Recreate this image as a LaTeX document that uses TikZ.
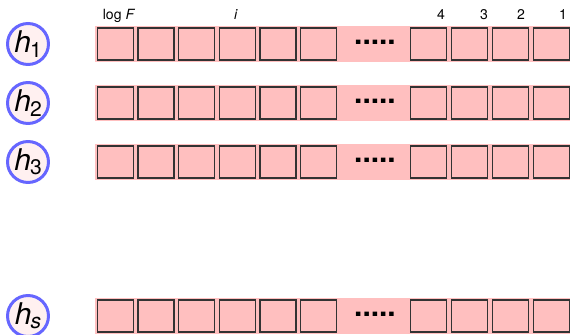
\documentclass[tikz,border=0pt]{standalone}
\usepackage{fontspec}
\setmainfont{TeX Gyre Heros}
\usepackage{tikz}
\usetikzlibrary{positioning}
\definecolor{cellpink}{HTML}{FFBFBF}
\definecolor{ringblue}{HTML}{6666FF}
\definecolor{ringfill}{HTML}{FFF0F0}
\definecolor{cellline}{HTML}{333333}
\newcommand{\hvar}[1]{{\fontsize{17}{17}\selectfont\itshape h}\kern-0.5pt\raisebox{-2.5pt}{\fontsize{12}{12}\selectfont #1}}

\begin{document}
\begin{tikzpicture}[x=0.02cm, y=-0.02cm, font=\fontsize{8}{9}\selectfont]
    \useasboundingbox (0,0) rectangle (570,334);
    \tikzset{
        strip/.style={fill=cellpink, inner sep=0, minimum width=9.5cm, minimum height=0.72cm},
        cell/.style={draw=cellline, line width=0.8pt, fill=cellpink, inner sep=0, minimum width=0.72cm, minimum height=0.64cm},
        ring/.style={circle, draw=ringblue, line width=1.7pt, fill=ringfill, inner sep=0, minimum size=0.82cm},
        dots/.style={font=\fontsize{17}{17}\selectfont\bfseries}
    }

    % one register per row
    \foreach \r/\y/\lab in {1/44/1, 2/103/2, 3/162/3, s/316/\textit{s}} {
        \node[ring] (h\r) at (28,\y) {\hvar{\lab}};
        \node[strip] (row\r) at (332.5,\y) {};
        \foreach \k/\x in {1/115.5, 2/156.1, 3/196.7, 4/237.3, 5/277.9, 6/318.5}
            \node[cell] (a\r\k) at (\x,\y) {};
        \node[dots] (dots\r) at (375,\y-2) {.....};
        \foreach \k/\x in {4/428.5, 3/469.5, 2/510.5, 1/551.5}
            \node[cell] (b\r\k) at (\x,\y) {};
    }

    % bit positions
    \node[anchor=base] (logF) at (119,20) {log \textit{F}};
    \node[anchor=base] (posi) at (236,20) {\textit{i}};
    \node[anchor=base] (pos4) at (441,20) {4};
    \node[anchor=base] (pos3) at (484,20) {3};
    \node[anchor=base] (pos2) at (521,20) {2};
    \node[anchor=base] (pos1) at (563,20) {1};
\end{tikzpicture}
\end{document}
